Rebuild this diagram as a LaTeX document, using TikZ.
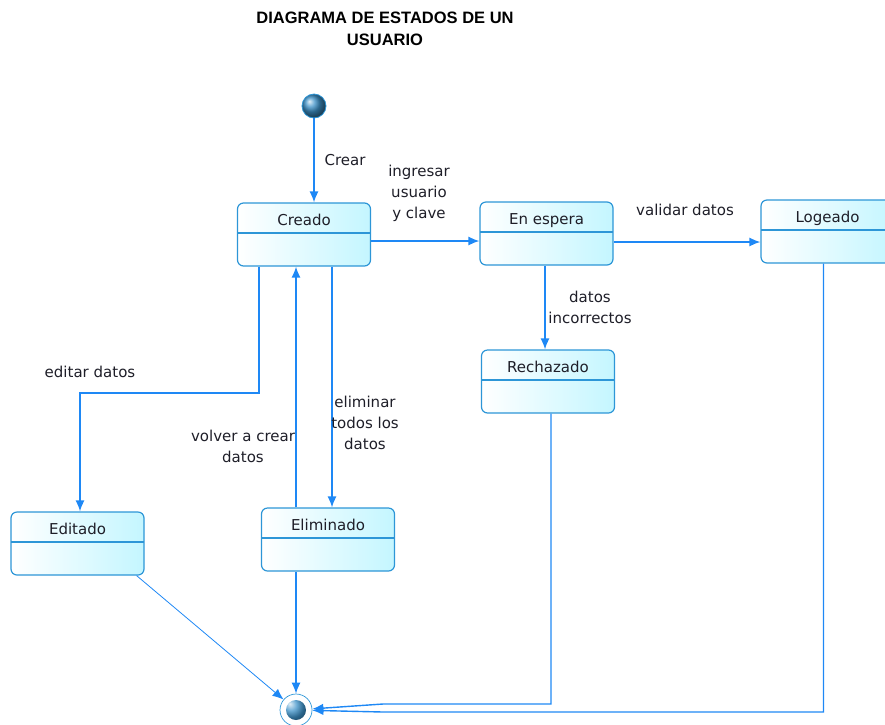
\documentclass[tikz,border=0pt]{standalone}
\usepackage{fontspec}
\setmainfont{DejaVu Sans}
\newfontfamily\titlefont{Liberation Sans}
\usetikzlibrary{arrows.meta}

\definecolor{linkblue}{RGB}{30,136,245}
\definecolor{boxblue}{RGB}{45,150,215}
\definecolor{boxfill}{RGB}{196,246,255}
\definecolor{ballblue}{RGB}{60,145,200}
\definecolor{txtdark}{RGB}{30,30,40}

\begin{document}
\begin{tikzpicture}[x=1pt,y=-1pt,
              every node/.style={font=\fontsize{15}{21}\selectfont, text=txtdark},
              state/.style={draw=boxblue, line width=1.2pt, rounded corners=6pt,
                left color=white, right color=boxfill,
                minimum width=133pt, text height=11pt, text depth=30pt, inner ysep=11pt,
                path picture={\draw[boxblue, line width=1.2pt]
                  ([yshift=-30pt]path picture bounding box.north west) --
                  ([yshift=-30pt]path picture bounding box.north east);}},
              inistate/.style={circle, draw=boxblue, line width=0.8pt, minimum size=24pt,
                inner sep=0pt, shading=ball, ball color=ballblue},
              finstate/.style={circle, draw=boxblue, line width=0.7pt, minimum size=32pt,
                inner sep=0pt,
                path picture={\shade[ball color=ballblue]
                  (path picture bounding box.center) circle (10pt);}},
              trans/.style={draw=linkblue, line width=1.4pt,
                -{Latex[length=11pt,width=9pt]}},
              lbl/.style={align=center}
            ]
  \useasboundingbox (0,0) rectangle (885,724);

  \node[font=\titlefont\bfseries\fontsize{16.5}{22}\selectfont, align=center, text=black]
    (title) at (385,29) {DIAGRAMA DE ESTADOS DE UN\\USUARIO};

  \node[inistate] (ini) at (314,106) {};
  \node[state] (creado) at (304,234.5) {Creado};
  \node[state] (espera) at (546.5,233.5) {En espera};
  \node[state] (logeado) at (827.5,231.5) {Logeado};
  \node[state] (rechazado) at (548,381.5) {Rechazado};
  \node[state] (editado) at (77.5,543.5) {Editado};
  \node[state] (eliminado) at (328,539.5) {Eliminado};
  \node[finstate] (fin) at (296,710) {};

  \coordinate (editcorner) at (170,393);
  \coordinate (rechjoin) at (383,704);
  \coordinate (logjoin) at (383,712);

  \draw[trans] (ini.south) -- (ini.south |- creado.north);
  \draw[trans] ([yshift=-6.5pt]creado.east) -- ([yshift=-6.5pt]creado.east -| espera.west);
  \draw[trans] ([yshift=-8.5pt]espera.east) -- ([yshift=-8.5pt]espera.east -| logeado.west);
  \draw[trans] ([xshift=-1.5pt]espera.south) -- ([xshift=-1.5pt]espera.south |- rechazado.north);
  \draw[trans] ([xshift=-45pt]creado.south) |- (editcorner) -| ([xshift=2.5pt]editado.north);
  \draw[trans] ([xshift=28pt]creado.south) -- ([xshift=28pt]creado.south |- eliminado.north);
  \draw[trans] ([xshift=-32pt]eliminado.north) -- ([xshift=-32pt]eliminado.north |- creado.south);
  \draw[trans, line width=0.8pt] ([xshift=-8pt]editado.south east) -- (fin);
  \draw[trans] (fin |- eliminado.south) -- (fin);
  \draw[trans] ([xshift=3pt]rechazado.south) |- (rechjoin) -- (fin);
  \draw[trans] ([xshift=-4pt]logeado.south) |- (logjoin) -- (fin);

  \node[lbl] (lcrear) at (345,160) {Crear};
  \node[lbl] (lingresar) at (419,193) {ingresar\\usuario\\y clave};
  \node[lbl] (lvalidar) at (685,210) {validar datos};
  \node[lbl] (lincorrectos) at (590,307) {datos\\incorrectos};
  \node[lbl] (leditar) at (90,372) {editar datos};
  \node[lbl] (leliminar) at (365,423) {eliminar\\todos los\\datos};
  \node[lbl] (lvolver) at (243,446) {volver a crear\\datos};
\end{tikzpicture}
\end{document}
